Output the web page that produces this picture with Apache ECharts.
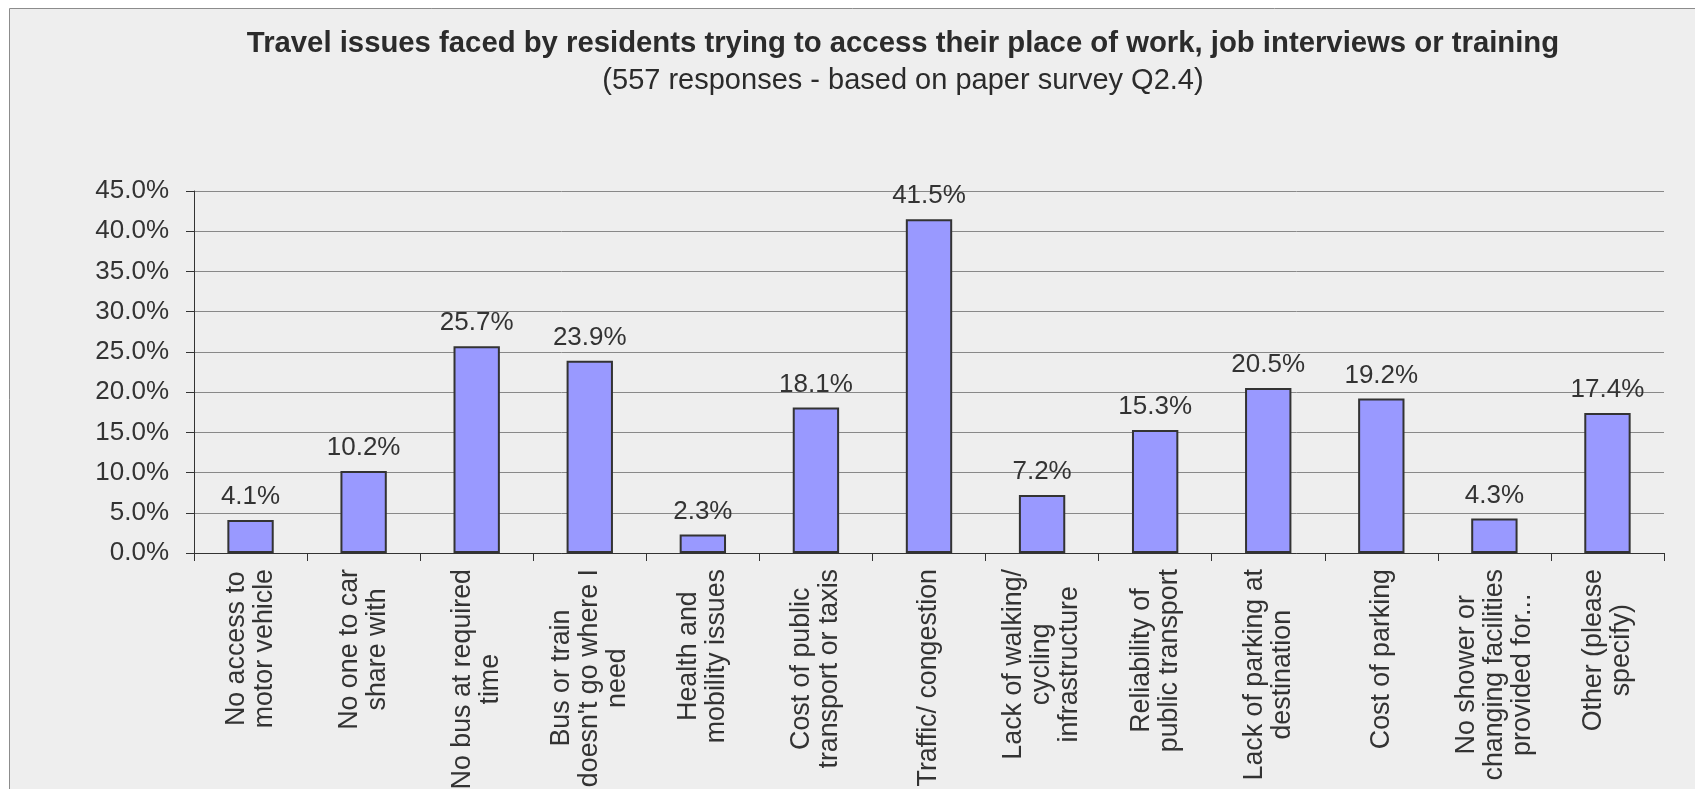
<!DOCTYPE html>
<html>
<head>
<meta charset="utf-8">
<script src="https://cdn.jsdelivr.net/npm/echarts@6/dist/echarts.min.js"></script>
<style>
html,body{margin:0;padding:0;background:#ffffff;}
#chart{width:1695px;height:789px;}
</style>
</head>
<body>
<div id="chart"></div>
<script>
const categories = [
  "No access to\nmotor vehicle",
  "No one to car\nshare with",
  "No bus at required\ntime",
  "Bus or train\ndoesn't go where I\nneed",
  "Health and\nmobility issues",
  "Cost of public\ntransport or taxis",
  "Traffic/ congestion",
  "Lack of walking/\ncycling\ninfrastructure",
  "Reliability of\npublic transport",
  "Lack of parking at\ndestination",
  "Cost of parking",
  "No shower or\nchanging facilities\nprovided for...",
  "Other (please\nspecify)"
];
const values = [4.1, 10.2, 25.7, 23.9, 2.3, 18.1, 41.5, 7.2, 15.3, 20.5, 19.2, 4.3, 17.4];
const titleText = "Travel issues faced by residents trying to access their place of work, job interviews or training";
const subtitleText = "(557 responses - based on paper survey Q2.4)";

const FONT = "'Liberation Sans', Arial, sans-serif";
const chart = echarts.init(document.getElementById('chart'));
chart.setOption({
  animation: false,
  backgroundColor: '#ffffff',
  graphic: [
    { type: 'rect', z: -10, shape: { x: 9.5, y: 8.5, width: 1700, height: 800 },
      style: { fill: '#eeeeee', stroke: '#8c8c8c', lineWidth: 1 } },
    { type: 'text', x: 903, y: 29, style: { text: titleText, align: 'center', verticalAlign: 'top',
      font: "bold 29.3px " + FONT, fill: '#2b2b2b' } },
    { type: 'text', x: 903, y: 66, style: { text: subtitleText, align: 'center', verticalAlign: 'top',
      font: "29px " + FONT, fill: '#2b2b2b' } }
  ],
  grid: { left: 194, right: 31, top: 191, bottom: 236, containLabel: false, outerBoundsMode: 'none' },
  xAxis: {
    type: 'category',
    data: categories,
    axisLine: { lineStyle: { color: '#333333', width: 1 } },
    axisTick: { show: true, length: 8, lineStyle: { color: '#333333' } },
    axisLabel: {
      interval: 0, rotate: 90, margin: 16, color: '#333333',
      fontFamily: FONT, fontSize: 26.8, lineHeight: 28,
      formatter: function (v) { return v.split('\n').map(s => '{a|' + s + '}').join('\n'); },
      rich: { a: { align: 'center', fontFamily: FONT, fontSize: 26.8, lineHeight: 28, color: '#333333' } }
    }
  },
  yAxis: {
    type: 'value', min: 0, max: 45, interval: 5,
    axisLine: { show: true, lineStyle: { color: '#333333', width: 1 } },
    axisTick: { show: true, length: 8, lineStyle: { color: '#333333' } },
    splitLine: { show: true, lineStyle: { color: '#888888', width: 1 } },
    axisLabel: { margin: 25, color: '#333333', fontFamily: FONT, fontSize: 26,
      formatter: v => v.toFixed(1) + '%' }
  },
  series: [{
    type: 'bar',
    data: values,
    barWidth: '41%',
    itemStyle: { color: '#9999ff', borderColor: '#333333', borderWidth: 2 },
    label: { show: true, position: 'top', distance: 10, color: '#333333', fontFamily: FONT, fontSize: 26,
      formatter: p => p.value.toFixed(1) + '%' }
  }]
});
</script>
</body>
</html>
